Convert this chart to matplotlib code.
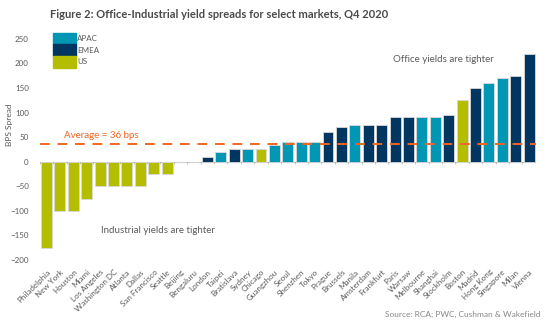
import numpy as np
import matplotlib.pyplot as plt
from matplotlib.patches import Patch

# Datos
cities = ["Philadelphia", "New York", "Houston", "Miami", "Los Angeles", "Washington DC",
          "Atlanta", "Dallas", "San Francisco", "Seattle", "Beijing", "Bengaluru", "London",
          "Taipei", "Bratislava", "Sydney", "Chicago", "Guangzhou", "Seoul", "Shenzhen",
          "Tokyo", "Prague", "Brussels", "Manila", "Amsterdam", "Frankfurt", "Paris",
          "Warsaw", "Melbourne", "Shanghai", "Stockholm", "Boston", "Madrid", "Hong Kong",
          "Singapore", "Milan", "Vienna"]
spreads = [-175, -100, -100, -75, -50, -50, -50, -50, -25, -25, 0, 0, 10,
           20, 25, 25, 25, 35, 40, 40, 40, 60, 70, 75, 75, 75, 90,
           90, 90, 90, 95, 125, 150, 160, 170, 175, 220]
regions = ["US"] * 10 + ["APAC", "APAC", "EMEA", "APAC", "EMEA", "APAC", "US", "APAC",
           "APAC", "APAC", "APAC", "EMEA", "EMEA", "APAC", "EMEA", "EMEA", "EMEA", "EMEA",
           "APAC", "APAC", "EMEA", "US", "EMEA", "APAC", "APAC", "EMEA", "EMEA"]
average = 36
yticks = [-200, -150, -100, -50, 0, 50, 100, 150, 200, 250]

colors = {"APAC": "#0096b4", "EMEA": "#00365f", "US": "#b5bd00"}
grey = "#5a5a5a"

plt.rcParams['font.family'] = ['Lato', 'DejaVu Sans']

fig = plt.figure(figsize=(5.54, 3.23), dpi=100)
ax = fig.add_axes([0.072, 0.195, 0.895, 0.70])

x = np.arange(len(cities))
ax.bar(x, spreads, width=0.82, color=[colors[r] for r in regions],
       edgecolor="#d9d9d9", linewidth=0.6, zorder=2)

# linea del cero y marcas entre barras
ax.axhline(0, color="#bbbbbb", lw=0.8, zorder=1)
ax.vlines(np.arange(len(cities) + 1) - 0.5, -4, 0, color="#bbbbbb", lw=0.6)

# promedio
ax.axhline(average, color="#f26522", lw=1.4, ls=(0, (5, 4)), zorder=3)
ax.text(1.3, average + 9, f"Average = {average} bps", color="#f26522",
        fontsize=7, va="bottom")

ax.text(29.6, 202, "Office yields are tighter", color=grey, fontsize=7, ha="center")
ax.text(8.3, -146, "Industrial yields are tighter", color=grey, fontsize=7, ha="center")

ax.set_xlim(-0.5, len(cities) - 0.5)
ax.set_ylim(-200, 260)
ax.set_yticks(yticks)
ax.set_xticks(x)
ax.set_xticklabels(cities, rotation=45, ha="right", rotation_mode="anchor",
                   fontsize=5.8, color=grey)
ax.tick_params(axis="x", length=0, pad=6)
ax.tick_params(axis="y", length=0, labelsize=5.8, labelcolor=grey, pad=8)
for s in ax.spines.values():
    s.set_visible(False)
ax.set_ylabel("BPS Spread", fontsize=6, color=grey, labelpad=5)
ax.yaxis.set_label_coords(-0.055, 0.6)

handles = [Patch(color=colors[k]) for k in ["APAC", "EMEA", "US"]]
ax.legend(handles, ["APAC", "EMEA", "US"], loc="upper left", bbox_to_anchor=(0.02, 1.02),
          frameon=False, fontsize=5.8, handlelength=2.9, handleheight=1.85,
          labelspacing=0, handletextpad=0.1, borderaxespad=0, labelcolor=grey)

fig.text(0.09, 0.945, "Figure 2: Office-Industrial yield spreads for select markets, Q4 2020",
         fontsize=8, fontweight="bold", color="#4a4a4a")
fig.text(0.975, 0.02, "Source: RCA; PWC, Cushman & Wakefield", fontsize=6,
         color="#888888", ha="right")

fig.savefig("out.png", dpi=100)
